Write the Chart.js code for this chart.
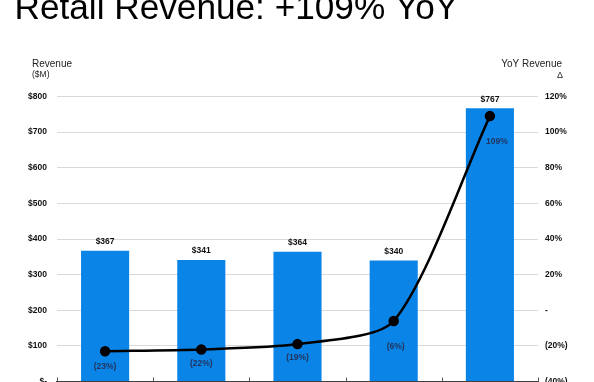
<!DOCTYPE html>
<html>
<head>
<meta charset="utf-8">
<script src="https://cdn.jsdelivr.net/npm/chart.js@4"></script>
<style>
  html, body { margin: 0; padding: 0; background: #fff; overflow: hidden; width: 594px; height: 382px; }
  #wrap { position: absolute; left: 0; top: 0; width: 594px; height: 400px; }
</style>
</head>
<body>
<div id="wrap"><canvas id="c" width="594" height="400"></canvas></div>
<script>
// ---- data ----
const categories = ['Period 1', 'Period 2', 'Period 3', 'Period 4', 'Period 5'];
const revenue = [367, 341, 364, 340, 767];          // $M
const yoyChange = [-23, -22, -19, -6, 109];         // %
const revenueTicks = [0, 100, 200, 300, 400, 500, 600, 700, 800];
const yoyTicks = [-40, -20, 0, 20, 40, 60, 80, 100, 120];
const chartTitle = 'Retail Revenue: +109% YoY';
const leftAxisTitle = ['Revenue', '($M)'];
const rightAxisTitle = ['YoY Revenue', 'Δ'];

// ---- style ----
const FONT = "'Liberation Sans', Arial, sans-serif";
const BAR_BLUE = '#0A85E7';
const yoyLabelShift = [[0, 15], [0, 14], [0, 14], [2, 26], [7, 26]];

const fmtRevenue = v => v === 0 ? '$-' : '$' + v;
const fmtYoy = v => v === 0 ? '-' : (v < 0 ? '(' + (-v) + '%)' : v + '%');

const annotate = {
  id: 'annotate',
  afterDatasetsDraw(chart) {
    const ctx = chart.ctx;
    const ca = chart.chartArea;
    const xs = chart.scales.x;
    ctx.save();
    // small category-boundary ticks on the x axis (pointing up)
    const step = xs.getPixelForValue(1) - xs.getPixelForValue(0);
    ctx.strokeStyle = '#555';
    ctx.lineWidth = 1;
    for (let k = 0; k <= categories.length; k++) {
      const x = Math.round(xs.getPixelForValue(0) - step / 2 + k * step) + 0.5;
      ctx.beginPath();
      ctx.moveTo(x, ca.bottom);
      ctx.lineTo(x, ca.bottom - 4);
      ctx.stroke();
    }
    // bar value labels
    ctx.font = 'bold 8.5px ' + FONT;
    ctx.textAlign = 'center';
    ctx.textBaseline = 'middle';
    ctx.fillStyle = '#111';
    chart.getDatasetMeta(0).data.forEach((el, i) => {
      ctx.fillText(fmtRevenue(revenue[i]), el.x, el.y - 9);
    });
    // yoy labels
    ctx.fillStyle = '#22345f';
    chart.getDatasetMeta(1).data.forEach((el, i) => {
      const s = yoyLabelShift[i];
      ctx.fillText(fmtYoy(yoyChange[i]), el.x + s[0], el.y + s[1]);
    });
    ctx.restore();
  },
  afterDraw(chart) {
    const ctx = chart.ctx;
    ctx.save();
    ctx.fillStyle = '#222';
    ctx.textBaseline = 'middle';
    ctx.textAlign = 'left';
    ctx.font = '10px ' + FONT;
    ctx.fillText(leftAxisTitle[0], 32, 64);
    ctx.font = '8.5px ' + FONT;
    ctx.fillText(leftAxisTitle[1], 32, 75);
    ctx.textAlign = 'right';
    ctx.font = '10px ' + FONT;
    ctx.fillText(rightAxisTitle[0], 562, 64);
    ctx.font = '9px ' + FONT;
    ctx.fillText(rightAxisTitle[1], 563, 76);
    ctx.restore();
  }
};

new Chart(document.getElementById('c'), {
  data: {
    labels: categories,
    datasets: [
      {
        type: 'bar',
        data: revenue,
        yAxisID: 'y',
        backgroundColor: BAR_BLUE,
        barPercentage: 0.5,
        categoryPercentage: 1.0,
        order: 2
      },
      {
        type: 'line',
        data: yoyChange,
        yAxisID: 'y1',
        borderColor: '#000',
        borderWidth: 2.5,
        tension: 0.25,
        pointRadius: 4,
        pointBackgroundColor: '#000',
        pointBorderColor: '#000',
        order: 1
      }
    ]
  },
  options: {
    responsive: false,
    animation: false,
    devicePixelRatio: 1,
    layout: { padding: { left: 14.5, right: 0, top: 0, bottom: 0 } },
    plugins: {
      legend: { display: false },
      tooltip: { enabled: false },
      title: {
        display: true,
        text: chartTitle,
        align: 'start',
        color: '#000',
        font: { family: FONT, size: 35.2, weight: 'normal', lineHeight: 0.5 },
        padding: { top: 0, bottom: 78.9 }
      }
    },
    scales: {
      x: {
        type: 'category',
        offset: true,
        grid: { display: false },
        border: { display: true, color: '#404040', width: 2 },
        ticks: { display: false },
        afterFit: s => { s.height = 18.5; }
      },
      y: {
        position: 'left',
        min: revenueTicks[0],
        max: revenueTicks[revenueTicks.length - 1],
        afterBuildTicks: s => { s.ticks = revenueTicks.map(v => ({ value: v })); },
        grid: { color: '#d9d9d9', lineWidth: 1, drawTicks: false },
        border: { display: false },
        ticks: {
          padding: 10,
          color: '#111',
          font: { family: FONT, size: 8.5, weight: 'bold' },
          callback: v => fmtRevenue(v)
        },
        afterFit: s => { s.width = 42.5; }
      },
      y1: {
        position: 'right',
        min: yoyTicks[0],
        max: yoyTicks[yoyTicks.length - 1],
        afterBuildTicks: s => { s.ticks = yoyTicks.map(v => ({ value: v })); },
        grid: { display: false, drawTicks: false },
        border: { display: false },
        ticks: {
          padding: 7,
          color: '#111',
          font: { family: FONT, size: 8.5, weight: 'bold' },
          callback: v => fmtYoy(v)
        },
        afterFit: s => { s.width = 56; }
      }
    }
  },
  plugins: [annotate]
});
</script>
</body>
</html>
